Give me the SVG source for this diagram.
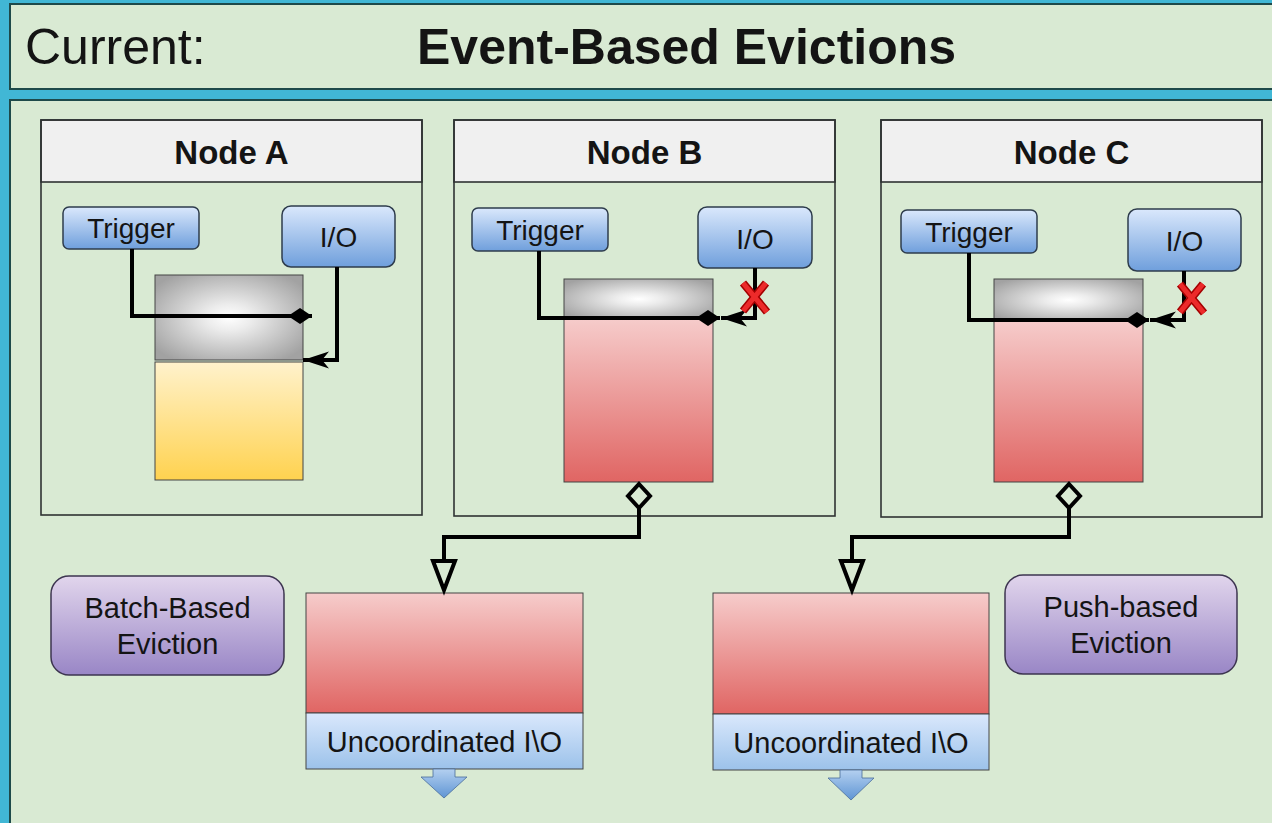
<svg xmlns="http://www.w3.org/2000/svg" width="1272" height="823" viewBox="0 0 1272 823">
  <defs>
    <style>
      text { font-family: "Liberation Sans", Arial, sans-serif; fill: #141414; }
      .frame { fill: #d9ead3; stroke: #1e4a4a; stroke-width: 2; }
      .node { fill: none; stroke: #2f3333; stroke-width: 1.6; }
      .nodehead { fill: #f0f0f0; stroke: #2f3333; stroke-width: 1.6; }
      .ntitle { font-size: 33px; font-weight: bold; text-anchor: middle; }
      .btn { fill: url(#gBlue); stroke: #2e3c4c; stroke-width: 1.5; }
      .btxt { font-size: 28px; text-anchor: middle; }
      .cache { fill: url(#gGray); stroke: #444; stroke-width: 1; }
      .red { fill: url(#gRed); stroke: #444; stroke-width: 1; }
      .yellow { fill: url(#gYellow); stroke: #444; stroke-width: 1; }
      .io { fill: url(#gIo); stroke: #444; stroke-width: 1; }
      .purple { fill: url(#gPurple); stroke: #3d3550; stroke-width: 1.5; }
      .ptxt { font-size: 29px; text-anchor: middle; }
      .wire { fill: none; stroke: #000; stroke-width: 4; stroke-linejoin: miter; }
      .xo { fill: none; stroke: #a40000; stroke-width: 8; }
      .xi { fill: none; stroke: #ec2a2a; stroke-width: 5; }
    </style>
    <linearGradient id="gBlue" x1="0" y1="0" x2="0" y2="1">
      <stop offset="0" stop-color="#dae8fc"/>
      <stop offset="1" stop-color="#6f9fdc"/>
    </linearGradient>
    <linearGradient id="gIo" x1="0" y1="0" x2="0" y2="1">
      <stop offset="0" stop-color="#dae8fc"/>
      <stop offset="1" stop-color="#9cc2ea"/>
    </linearGradient>
    <linearGradient id="gDown" x1="0" y1="0" x2="0" y2="1">
      <stop offset="0" stop-color="#b4d0f0"/>
      <stop offset="1" stop-color="#5f95d4"/>
    </linearGradient>
    <linearGradient id="gRed" x1="0" y1="0" x2="0" y2="1">
      <stop offset="0" stop-color="#f6cccb"/>
      <stop offset="1" stop-color="#e06563"/>
    </linearGradient>
    <linearGradient id="gYellow" x1="0" y1="0" x2="0" y2="1">
      <stop offset="0" stop-color="#fff2cc"/>
      <stop offset="1" stop-color="#ffd24f"/>
    </linearGradient>
    <linearGradient id="gPurple" x1="0" y1="0" x2="0" y2="1">
      <stop offset="0" stop-color="#e1d5ec"/>
      <stop offset="1" stop-color="#9986c6"/>
    </linearGradient>
    <radialGradient id="gGray" cx="0.5" cy="0.5" r="0.62">
      <stop offset="0" stop-color="#ffffff"/>
      <stop offset="0.25" stop-color="#ececec"/>
      <stop offset="1" stop-color="#a2a2a2"/>
    </radialGradient>
    <marker id="mDiamond" viewBox="0 0 24 16" refX="24" refY="8" markerWidth="24" markerHeight="16" markerUnits="userSpaceOnUse" orient="auto">
      <path d="M0,8 L12,0 L24,8 L12,16 Z" fill="#000"/>
    </marker>
    <marker id="mArrow" viewBox="0 0 26 18" refX="26" refY="9" markerWidth="26" markerHeight="18" markerUnits="userSpaceOnUse" orient="auto">
      <path d="M26,9 L0,0.5 L7,9 L0,17.5 Z" fill="#000"/>
    </marker>
  </defs>

  <!-- backdrop -->
  <rect x="0" y="0" width="1272" height="823" fill="#41b7d5"/>

  <!-- title bar -->
  <g id="title">
    <rect class="frame" x="10" y="4" width="1270" height="85"/>
    <text x="25" y="64" font-size="50">Current:</text>
    <text x="417" y="64" font-size="50" font-weight="bold">Event-Based Evictions</text>
  </g>

  <!-- main panel -->
  <rect class="frame" x="10" y="100" width="1270" height="730"/>

  <!-- Node A -->
  <g id="nodeA">
    <rect class="nodehead" x="41" y="120" width="381" height="62"/>
    <rect class="node" x="41" y="120" width="381" height="395"/>
    <text class="ntitle" x="231.5" y="164">Node A</text>
    <rect class="btn" x="63" y="207" width="136" height="42" rx="6"/>
    <text class="btxt" x="131" y="238">Trigger</text>
    <rect class="btn" x="282" y="206" width="113" height="61" rx="9"/>
    <text class="btxt" x="338.5" y="247">I/O</text>
    <rect class="cache" x="155" y="275" width="148" height="85"/>
    <rect class="yellow" x="155" y="362" width="148" height="118"/>
  </g>

  <!-- Node B -->
  <g id="nodeB">
    <rect class="nodehead" x="454" y="120" width="381" height="62"/>
    <rect class="node" x="454" y="120" width="381" height="396"/>
    <text class="ntitle" x="644.5" y="164">Node B</text>
    <rect class="btn" x="472" y="208" width="136" height="43" rx="6"/>
    <text class="btxt" x="540" y="240">Trigger</text>
    <rect class="btn" x="698" y="207" width="114" height="61" rx="9"/>
    <text class="btxt" x="755" y="249">I/O</text>
    <rect class="red" x="564" y="318" width="149" height="164"/>
    <rect class="cache" x="564" y="279" width="149" height="40"/>
  </g>

  <!-- Node C -->
  <g id="nodeC">
    <rect class="nodehead" x="881" y="120" width="381" height="62"/>
    <rect class="node" x="881" y="120" width="381" height="397"/>
    <text class="ntitle" x="1071.5" y="164">Node C</text>
    <rect class="btn" x="901" y="210" width="136" height="43" rx="6"/>
    <text class="btxt" x="969" y="242">Trigger</text>
    <rect class="btn" x="1128" y="209" width="113" height="62" rx="9"/>
    <text class="btxt" x="1184.5" y="251">I/O</text>
    <rect class="red" x="994" y="320" width="149" height="162"/>
    <rect class="cache" x="994" y="279" width="149" height="42"/>
  </g>

  <!-- Batch-based eviction target -->
  <g id="batchQueue">
    <rect class="red" x="306" y="593" width="277" height="120"/>
    <rect class="io" x="306" y="713" width="277" height="56"/>
    <text class="ptxt" x="444.5" y="752">Uncoordinated I\O</text>
    <path d="M433,769 L455,769 L455,777 L467,777 L444,798 L421,777 L433,777 Z" fill="url(#gDown)" stroke="#4a6d99" stroke-width="0.8"/>
  </g>
  <g id="batchLabel">
    <rect class="purple" x="51" y="576" width="233" height="99" rx="18"/>
    <text class="ptxt" x="167.5" y="618">Batch-Based</text>
    <text class="ptxt" x="167.5" y="654">Eviction</text>
  </g>

  <!-- Push-based eviction target -->
  <g id="pushQueue">
    <rect class="red" x="713" y="593" width="276" height="121"/>
    <rect class="io" x="713" y="714" width="276" height="56"/>
    <text class="ptxt" x="851" y="753">Uncoordinated I\O</text>
    <path d="M840,770 L862,770 L862,778 L874,778 L851,800 L828,778 L840,778 Z" fill="url(#gDown)" stroke="#4a6d99" stroke-width="0.8"/>
  </g>
  <g id="pushLabel">
    <rect class="purple" x="1005" y="575" width="232" height="99" rx="18"/>
    <text class="ptxt" x="1121" y="617">Push-based</text>
    <text class="ptxt" x="1121" y="653">Eviction</text>
  </g>

  <!-- connectors -->
  <g id="connectors">
    <!-- Node A -->
    <path class="wire" d="M132,249 L132,316 L312,316" marker-end="url(#mDiamond)"/>
    <path class="wire" d="M337,267 L337,360 L303,360" marker-end="url(#mArrow)"/>
    <!-- Node B -->
    <path class="wire" d="M539,251 L539,318 L720,318" marker-end="url(#mDiamond)"/>
    <path class="wire" d="M755,268 L755,318 L721,318" marker-end="url(#mArrow)"/>
    <path class="xo" d="M743,283 L767,312 M766,283 L743,311"/>
    <path class="xi" d="M743,283 L767,312 M766,283 L743,311"/>
    <!-- Node C -->
    <path class="wire" d="M969,253 L969,320 L1149,320" marker-end="url(#mDiamond)"/>
    <path class="wire" d="M1184,271 L1184,320 L1150,320" marker-end="url(#mArrow)"/>
    <path class="xo" d="M1180,284 L1204,313 M1203,284 L1180,312"/>
    <path class="xi" d="M1180,284 L1204,313 M1203,284 L1180,312"/>
    <!-- Node B to batch queue -->
    <path class="wire" d="M639,508 L639,537 L444,537 L444,561"/>
    <path d="M639,484 L650,496 L639,508 L628,496 Z" fill="#d9ead3" stroke="#000" stroke-width="4"/>
    <path d="M433,561 L455,561 L444,590 Z" fill="#d9ead3" stroke="#000" stroke-width="4" stroke-linejoin="miter"/>
    <!-- Node C to push queue -->
    <path class="wire" d="M1069,508 L1069,537 L852,537 L852,561"/>
    <path d="M1069,484 L1080,496 L1069,508 L1058,496 Z" fill="#d9ead3" stroke="#000" stroke-width="4"/>
    <path d="M841,561 L863,561 L852,590 Z" fill="#d9ead3" stroke="#000" stroke-width="4" stroke-linejoin="miter"/>
  </g>
</svg>
